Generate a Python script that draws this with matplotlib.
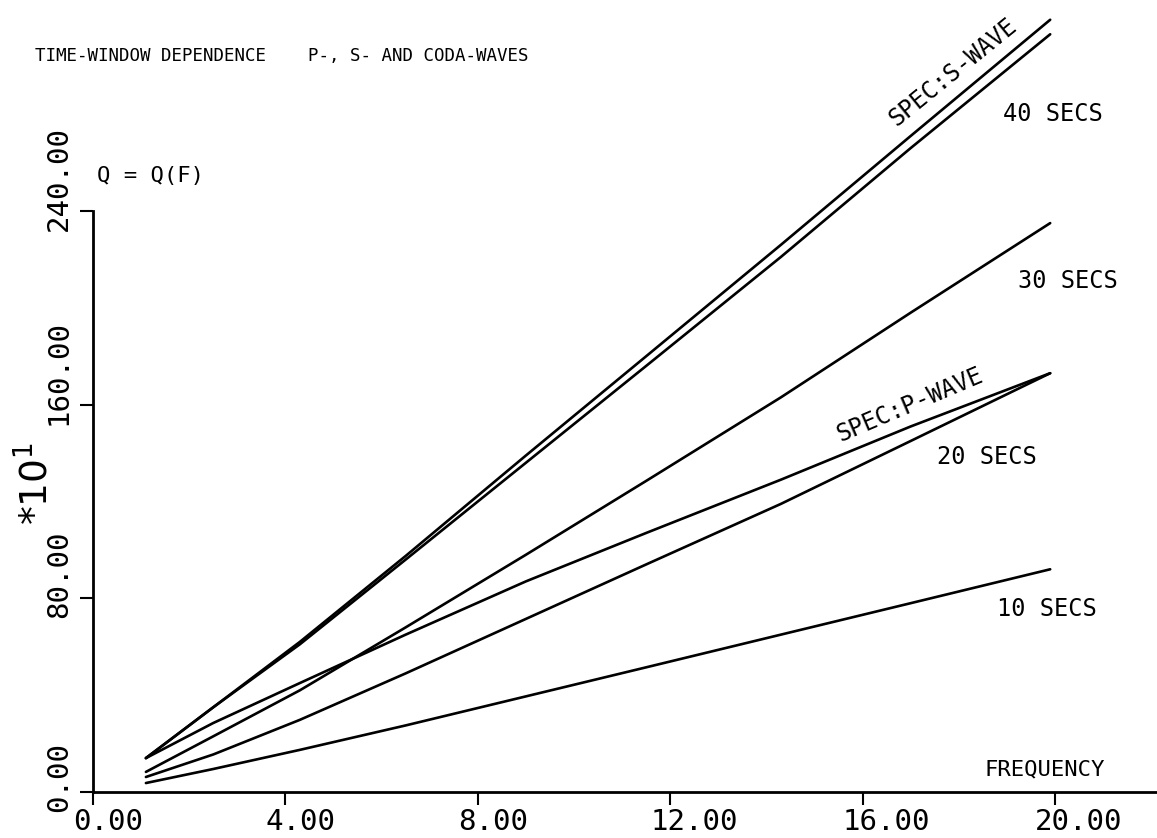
import matplotlib
matplotlib.use("Agg")
import matplotlib.pyplot as plt
from matplotlib.transforms import offset_copy, blended_transform_factory

# ---- data ----
freq = [1.1, 2.5, 4.3, 6.5, 9.0, 11.5, 14.3, 17.0, 19.9]
q_spec_s = [14, 35, 62, 97.5, 139, 180, 226, 271, 319]
q_40s = [14, 35, 61, 96, 136, 176, 221, 266, 313]
q_30s = [8.3, 23, 42, 68, 98, 128.5, 163, 198, 235]
q_spec_p = [14, 28.5, 45, 65, 87, 107, 129, 151, 173]
q_20s = [6.2, 15.5, 29.8, 49, 71.5, 94, 119, 145, 173]
q_10s = [3.7, 9.5, 17.4, 27.5, 39.5, 51.5, 65, 78, 92]

x_ticks = [0, 4, 8, 12, 16, 20]
x_tick_labels = ["0.00", "4.00", "8.00", "12.00", "16.00", "20.00"]
y_ticks = [0, 80, 160, 240]
y_tick_labels = ["0.00", "80.00", "160.00", "240.00"]

series = [q_spec_s, q_40s, q_30s, q_spec_p, q_20s, q_10s]

W, H, DPI = 1157, 838, 100
fig = plt.figure(figsize=(W / DPI, H / DPI), dpi=DPI)
fig.patch.set_facecolor("white")

left_px, right_px, x0_px, x20_px = 93, 1157, 93, 1055
y0_px, y240_px = 792, 211
ax = fig.add_axes([left_px / W, (H - y0_px) / H, (right_px - left_px) / W, (y0_px - y240_px) / H])
px_per_unit = (x20_px - x0_px) / 20.0
ax.set_xlim(0, (right_px - left_px) / px_per_unit)
ax.set_ylim(0, 240)
for s in ["top", "right"]:
    ax.spines[s].set_visible(False)
for s in ["left", "bottom"]:
    ax.spines[s].set_linewidth(2.0)
ax.spines["left"].set_bounds(0, 240)
ax.set_xticks(x_ticks)
ax.set_yticks(y_ticks)
ax.set_xticklabels([])
ax.set_yticklabels([])
ax.tick_params(direction="out", length=9.5, width=1.5, color="black")
ax.set_facecolor("none")

mono = "DejaVu Sans Mono"

for q in series:
    ax.plot(freq, q, color="black", lw=1.9, clip_on=False,
            solid_capstyle="round", solid_joinstyle="round")

# tick labels
tx = offset_copy(blended_transform_factory(ax.transData, ax.transAxes), fig=fig, x=-20, y=-16, units="dots")
for x, lab in zip(x_ticks, x_tick_labels):
    ax.text(x, 0, lab, transform=tx, ha="left", va="top", fontsize=21, family=mono)
ty = offset_copy(blended_transform_factory(ax.transAxes, ax.transData), fig=fig, x=-20, y=-20, units="dots")
for y, lab in zip(y_ticks, y_tick_labels):
    ax.text(0, y, lab, transform=ty, ha="right", va="bottom", rotation=90, fontsize=21, family=mono)

def px2data(px, py):
    return (px - x0_px) / px_per_unit, (y0_px - py) / ((y0_px - y240_px) / 240.0)

def label(px, py, s, **kw):
    x, y = px2data(px, py)
    ax.text(x, y, s, family=mono, clip_on=False, **kw)

label(1003, 114, "40 SECS", ha="left", va="center", fontsize=17)
label(1018, 281, "30 SECS", ha="left", va="center", fontsize=17)
label(937, 457, "20 SECS", ha="left", va="center", fontsize=17)
label(997, 609, "10 SECS", ha="left", va="center", fontsize=17)
label(985, 769, "FREQUENCY", ha="left", va="center", fontsize=16)
label(953, 72, "SPEC:S-WAVE", ha="center", va="center", rotation=39, fontsize=17)
label(910, 405, "SPEC:P-WAVE", ha="center", va="center", rotation=23, fontsize=17)

fig.text(35 / W, 1 - 56 / H, "TIME-WINDOW DEPENDENCE    P-, S- AND CODA-WAVES",
         ha="left", va="center", fontsize=12.6, family=mono)
fig.text(97 / W, 1 - 176 / H, "Q = Q(F)", ha="left", va="center", fontsize=16, family=mono)
fig.text(35 / W, 1 - 483 / H, r"*10$^{1}$", ha="center", va="center", rotation=90, fontsize=27,
         family="DejaVu Sans")

fig.savefig("out.png", dpi=DPI, facecolor="white")
